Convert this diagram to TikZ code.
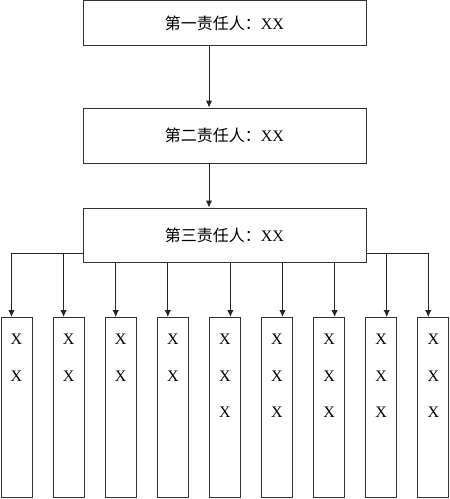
\documentclass[tikz,border=0pt]{standalone}
\usepackage{fontspec}
\setmainfont{Liberation Serif}
\newfontfamily\cjk{Noto Sans CJK SC}
\usetikzlibrary{arrows.meta}

\tikzset{
    headbox/.style={draw=black!80, line width=1pt, minimum width=283pt, inner sep=0pt, font=\fontsize{16}{19}\selectfont},
    colbox/.style={draw=black!80, line width=1pt, minimum width=31pt, minimum height=180pt, inner sep=0pt, anchor=north},
    xmark/.style={font=\fontsize{16}{19}\selectfont, inner sep=0pt},
    link/.style={draw=black!85, line width=1pt, -{Latex[length=7pt,width=6.5pt]}}
}

\begin{document}
\begin{tikzpicture}[x=1pt,y=-1pt]
    \useasboundingbox (0,0) rectangle (450,499);

    % three levels of responsibility
    \node[headbox, minimum height=45pt] (first) at (224.5,23) {{\cjk 第一责任人：}XX};
    \node[headbox, minimum height=55pt] (second) at (224.5,135.5) {{\cjk 第二责任人：}XX};
    \node[headbox, minimum height=54pt] (third) at (224.5,235) {{\cjk 第三责任人：}XX};

    \coordinate (down1) at ([xshift=-15.5pt]first.south);
    \coordinate (down2) at ([xshift=-15.5pt]second.south);
    \draw[link] (down1) -- (down1 |- second.north);
    \draw[link] (down2) -- (down2 |- third.north);

    % nine columns below
    \node[colbox] (c1) at (16.5,317) {};
    \node[colbox] (c2) at (68.6,317) {};
    \node[colbox] (c3) at (120.7,317) {};
    \node[colbox] (c4) at (172.8,317) {};
    \node[colbox] (c5) at (224.9,317) {};
    \node[colbox] (c6) at (277,317) {};
    \node[colbox] (c7) at (329.1,317) {};
    \node[colbox] (c8) at (381.2,317) {};
    \node[colbox] (c9) at (433.3,317) {};

    % arrow ends on the columns
    \coordinate (t1) at ([xshift=-5pt]c1.north);
    \coordinate (t2) at ([xshift=-5pt]c2.north);
    \coordinate (t3) at ([xshift=-5pt]c3.north);
    \coordinate (t4) at ([xshift=-5pt]c4.north);
    \coordinate (t5) at ([xshift=5.5pt]c5.north);
    \coordinate (t6) at ([xshift=5.5pt]c6.north);
    \coordinate (t7) at ([xshift=5.5pt]c7.north);
    \coordinate (t8) at ([xshift=5.5pt]c8.north);
    \coordinate (t9) at ([xshift=-5pt]c9.north);

    \coordinate (busL) at ([yshift=9pt]third.south west);
    \coordinate (busR) at ([yshift=9pt]third.south east);

    \draw[link] (busL) -| (t1);
    \draw[link] (t2 |- busL) -- (t2);
    \draw[link] (t3 |- third.south) -- (t3);
    \draw[link] (t4 |- third.south) -- (t4);
    \draw[link] (t5 |- third.south) -- (t5);
    \draw[link] (t6 |- third.south) -- (t6);
    \draw[link] (t7 |- third.south) -- (t7);
    \draw[link] (t8 |- busR) -- (t8);
    \draw[link] (busR) -| (t9);

    % the X marks
    \foreach \c in {1,2,3,4} {
        \node[xmark] (x\c a) at ([yshift=-22pt]c\c.north) {X};
        \node[xmark] (x\c b) at ([yshift=-59pt]c\c.north) {X};
    }
    \foreach \c in {5,6,7,8,9} {
        \node[xmark] (x\c a) at ([yshift=-22pt]c\c.north) {X};
        \node[xmark] (x\c b) at ([yshift=-59pt]c\c.north) {X};
        \node[xmark] (x\c c) at ([yshift=-95pt]c\c.north) {X};
    }
\end{tikzpicture}
\end{document}
